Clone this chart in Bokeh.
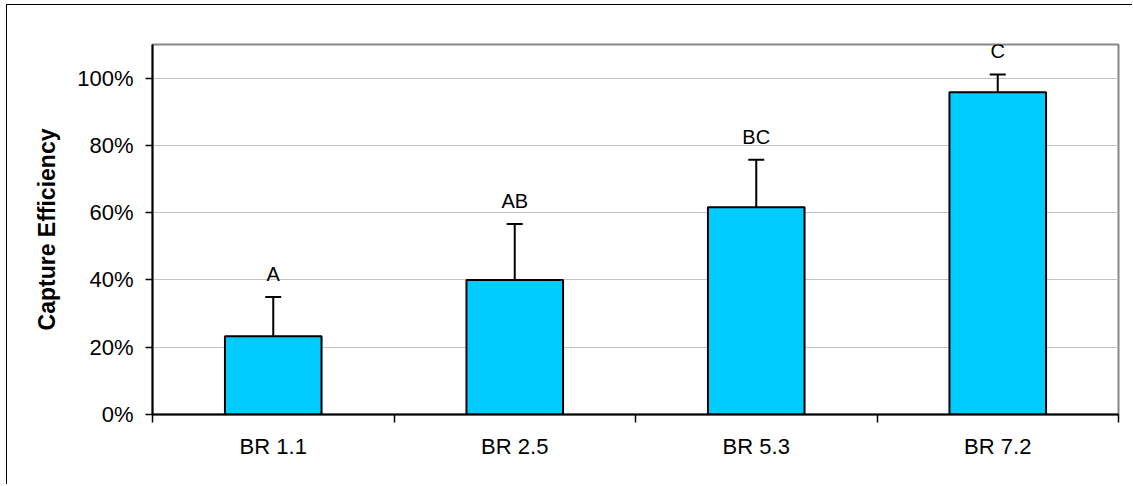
from bokeh.plotting import figure
from bokeh.models import (ColumnDataSource, Range1d,
                          FixedTicker, NumeralTickFormatter,
                          Whisker, TeeHead, LabelSet)
from bokeh.embed import file_html
from bokeh.resources import INLINE
from bokeh.core.properties import value

# ---- data ----
categories = ["BR 1.1", "BR 2.5", "BR 5.3", "BR 7.2"]
capture_eff = [0.233, 0.400, 0.616, 0.958]
error_bar = [0.116, 0.166, 0.141, 0.053]
letters = ["A", "AB", "BC", "C"]
y_ticks = [0.0, 0.2, 0.4, 0.6, 0.8, 1.0]

FONT = "Liberation Sans"

n = len(categories)
xpos = [i + 0.5 for i in range(n)]
upper = [m + e for m, e in zip(capture_eff, error_bar)]
src = ColumnDataSource(dict(x=xpos, cat=categories, mean=capture_eff,
                            upper=upper, letter=letters))

p = figure(x_range=Range1d(0, n), y_range=Range1d(0, 1.1),
           width=1126, height=480, output_backend="svg", toolbar_location=None,
           x_axis_location="below", y_axis_location="left",
           min_border_left=145, min_border_top=39, min_border_right=15,
           min_border_bottom=71)
p.styles = {"border-left": "1px solid black", "border-top": "1px solid black",
            "margin-left": "6px", "margin-top": "4px"}

p.background_fill_color = "white"
p.border_fill_color = "white"
p.outline_line_color = "#878787"
p.outline_line_width = 2

p.xgrid.visible = False
p.ygrid.grid_line_color = "#c4c4c4"
p.ygrid.grid_line_width = 1
p.ygrid.ticker = FixedTicker(ticks=y_ticks)

# y axis
ya = p.yaxis[0]
ya.ticker = FixedTicker(ticks=y_ticks)
ya.formatter = NumeralTickFormatter(format="0%")
ya.major_tick_out = 7
ya.major_tick_in = 0
ya.minor_tick_line_color = None
ya.axis_line_color = "black"
ya.axis_line_width = 2
ya.major_tick_line_color = "black"
ya.major_tick_line_width = 1.5
ya.major_label_standoff = 12
ya.major_label_text_font = FONT
ya.major_label_text_font_size = "22px"
ya.major_label_text_color = "black"
ya.axis_label = "Capture Efficiency"
ya.axis_label_text_font = FONT
ya.axis_label_text_font_size = "23px"
ya.axis_label_text_font_style = "bold"
ya.axis_label_text_color = "black"
ya.axis_label_standoff = 14

# bottom axis: labels at bar centres, tick marks at category boundaries
xa = p.xaxis[0]
xa.ticker = FixedTicker(ticks=xpos, minor_ticks=list(range(n + 1)))
xa.major_label_overrides = {x: c for x, c in zip(xpos, categories)}
xa.major_tick_line_color = None
xa.major_tick_out = 0
xa.major_tick_in = 0
xa.minor_tick_out = 8
xa.minor_tick_in = 0
xa.minor_tick_line_color = "black"
xa.minor_tick_line_width = 1.5
xa.axis_line_color = "black"
xa.axis_line_width = 2
xa.major_label_standoff = 11
xa.major_label_text_font = FONT
xa.major_label_text_font_size = "22px"
xa.major_label_text_color = "black"

# bars
p.vbar(x="x", top="mean", width=0.4, source=src,
       fill_color="#00CCFF", line_color="black", line_width=2)

# error bars (upper only)
wh = Whisker(source=src, base="x", upper="upper", lower="mean",
             upper_head=TeeHead(size=16, line_width=2, line_color="black"),
             lower_head=None, line_width=2, line_color="black")
p.add_layout(wh)

# significance letters
labels = LabelSet(source=src, x="x", y="upper", text="letter",
                  y_offset=23, text_align="center", text_baseline="middle",
                  text_font=value(FONT), text_font_size="20px",
                  text_color="black")
p.add_layout(labels)

open("out.html", "w").write(file_html(p, INLINE))
